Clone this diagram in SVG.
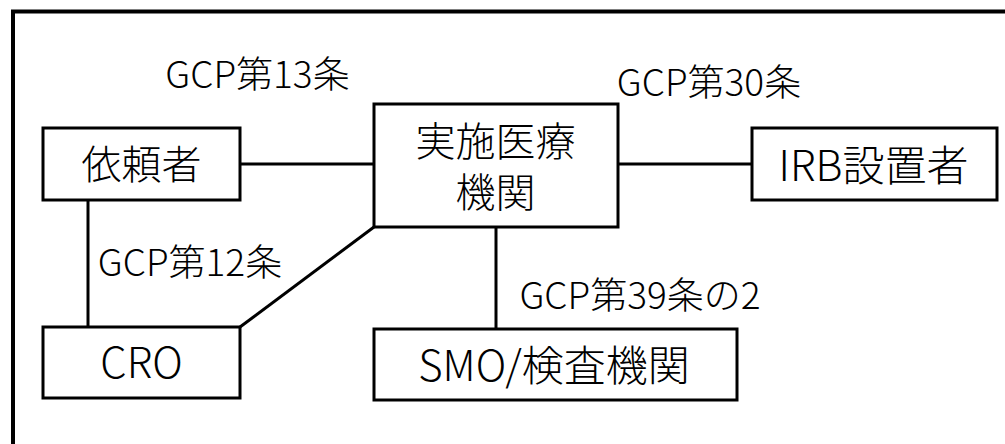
<svg xmlns="http://www.w3.org/2000/svg" width="1005" height="444" viewBox="0 0 1005 444">
<style>
.box{fill:#fff;stroke:#000;stroke-width:3}
.ln{stroke:#000;stroke-width:3;fill:none}
text{font-family:"Noto Sans CJK JP","Noto Sans CJK SC",sans-serif;font-weight:300;fill:#000;text-anchor:middle;dominant-baseline:central}
.lbl{font-size:37px}
.nt{font-size:40px}
.nl{font-size:42px}
</style>
<rect x="0" y="0" width="1005" height="444" fill="#fff"/>
<path d="M13 460 V11.5 H1010" fill="none" stroke="#000" stroke-width="4"/>
<g id="connectors">
<line class="ln" x1="240" y1="164" x2="374" y2="164"/>
<line class="ln" x1="618" y1="164" x2="752" y2="164"/>
<line class="ln" x1="88" y1="200" x2="88" y2="327"/>
<line class="ln" x1="240" y1="327" x2="374" y2="227"/>
<line class="ln" x1="496" y1="227" x2="496" y2="329"/>
</g>
<g id="labels">
<text class="lbl" x="257.5" y="72">GCP第13条</text>
<text class="lbl" x="709" y="80">GCP第30条</text>
<text class="lbl" x="190" y="260">GCP第12条</text>
<text class="lbl" x="640" y="292.5">GCP第39条の2</text>
</g>
<g id="sponsor">
<rect class="box" x="43" y="128" width="197" height="72"/>
<text class="nt" x="141.5" y="162">依頼者</text>
</g>
<g id="site">
<rect class="box" x="374" y="104" width="244" height="123"/>
<text class="nt" x="495.5" y="138.5">実施医療<tspan x="495.5" dy="51">機関</tspan></text>
</g>
<g id="irb">
<rect class="box" x="752" y="128" width="245" height="72"/>
<text class="nl" x="873.5" y="162.5">IRB設置者</text>
</g>
<g id="cro">
<rect class="box" x="43" y="327" width="197" height="71"/>
<text class="nl" x="141.5" y="359.5">CRO</text>
</g>
<g id="smo">
<rect class="box" x="374" y="329" width="363" height="71"/>
<text class="nl" x="554" y="362.5">SMO/検査機関</text>
</g>
</svg>
